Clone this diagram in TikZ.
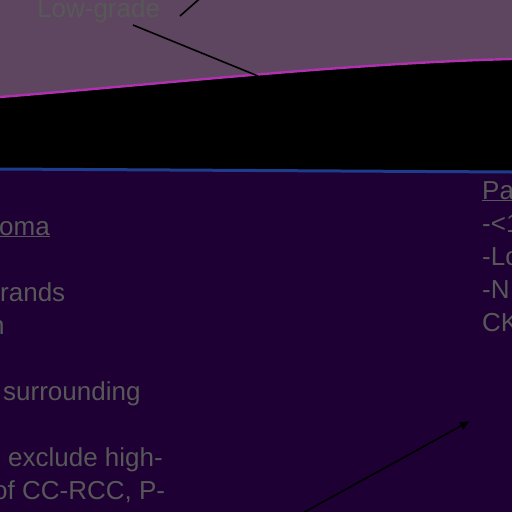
\documentclass[tikz,border=0pt]{standalone}
\usepackage{fontspec}
\setmainfont{Liberation Sans}
\usetikzlibrary{arrows.meta}
\definecolor{mauvefill}{RGB}{94,70,96}
\definecolor{deepfill}{RGB}{30,0,52}
\definecolor{pinkedge}{RGB}{176,48,176}
\definecolor{blueedge}{RGB}{30,60,140}
\definecolor{txtgray}{RGB}{88,88,88}
\begin{document}
\begin{tikzpicture}[x=1pt,y=-1pt,font=\fontsize{26}{33}\selectfont,
  lbl/.style={text=txtgray,inner sep=0pt,anchor=base west},
  lead/.style={draw=black,line width=1.6pt}]
\useasboundingbox (0,0) rectangle (512,512);
% layers
\fill[deepfill] (0,0) rectangle (512,512);
\fill[black] (0,0) -- (512,0) -- (512,172) -- (0,169) -- cycle;
\fill[mauvefill] (0,0) -- (0,97) .. controls (150,85) and (350,63) .. (512,59) -- (512,0) -- cycle;
\draw[pinkedge,line width=2.4pt] (0,97) .. controls (150,85) and (350,63) .. (512,59);
\draw[blueedge,line width=3pt] (0,169) -- (512,172);
% labels
\node[lbl] (lowgrade) at (37,17) {Low-grade};
\node[lbl] (oma) at (-1,235) {\underline{oma}};
\node[lbl] (rands) at (0,301) {rands};
\node[lbl] (n) at (-10,334) {n};
\node[lbl] (surr) at (3,400) {surrounding};
\node[lbl] (excl) at (8,466) {exclude high-};
\node[lbl] (ofcc) at (-7,499) {of CC-RCC, P-};
\node[lbl] (pa) at (482,199) {\underline{Pa}};
\node[lbl] (lt1) at (482,232) {-<1};
\node[lbl] (lo) at (482,265) {-Lo};
\node[lbl] (nn) at (482,298) {-N};
\node[lbl] (ck) at (482,331) {CK};
% leaders
\coordinate (upfoot) at (180,16);
\coordinate (uphead) at (214,-14);
\coordinate (lowfoot) at (133,25);
\coordinate (lowhead) at (258,76);
\coordinate (arrtail) at (290,520);
\coordinate (arrtip) at (470,421);
\draw[lead] (upfoot) -- (uphead);
\draw[lead] (lowfoot) -- (lowhead);
\draw[lead,-{Latex[length=10pt,width=9pt]}] (arrtail) -- (arrtip);
\end{tikzpicture}
\end{document}
